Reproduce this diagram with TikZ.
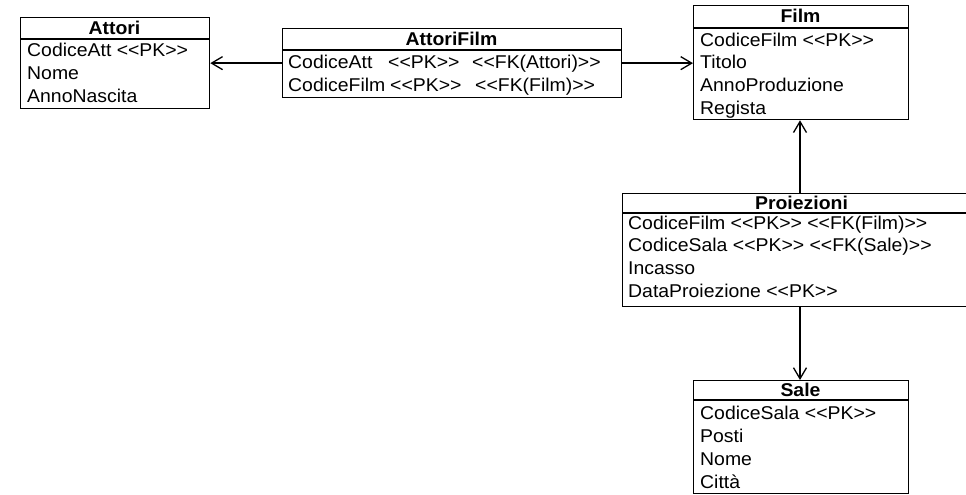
\documentclass[tikz,border=0pt]{standalone}
\usepackage{fontspec}
\setmainfont{Liberation Sans}[Ligatures=TeXOff, FakeStretch=1.05]
\usetikzlibrary{arrows.meta}
\tikzset{
  tbl/.style={draw, line width=1.3pt, inner sep=0pt, anchor=north west},
  hdr/.style={font=\bfseries\fontsize{18.5}{20}\selectfont, inner sep=0pt, anchor=base},
  row/.style={font=\fontsize{18.5}{20}\selectfont, inner sep=0pt, anchor=base west},
  sep/.style={line width=1.3pt},
  fk/.style={line width=1.3pt, -{Straight Barb[length=11pt,width=13pt,line width=1.3pt]}}
}
\begin{document}
\begin{tikzpicture}[x=1pt,y=-1pt]
\useasboundingbox (0,0) rectangle (966,495);
\clip (0,0) rectangle (966,495);
% Attori
\node[tbl, minimum width=189pt, minimum height=91pt] (attori) at (20,17) {};
\draw[sep] (20,39) -- (209,39);
\node[hdr] (attoriT) at (114.5,34.5) {Attori};
\node[row] (a1) at (27,56.5) {CodiceAtt <<PK>>};
\node[row] (a2) at (27,79.5) {Nome};
\node[row] (a3) at (27,102.5) {AnnoNascita};
% AttoriFilm
\node[tbl, minimum width=339pt, minimum height=69pt] (af) at (282,28) {};
\draw[sep] (282,50) -- (621,50);
\node[hdr] (afT) at (451.5,45.5) {AttoriFilm};
\node[row] (af1) at (288,69) {CodiceAtt};
\node[row] (af1b) at (388,69) {<<PK>>};
\node[row] (af1c) at (472,69) {<<FK(Attori)>>};
\node[row] (af2) at (288,91) {CodiceFilm};
\node[row] (af2b) at (390,91) {<<PK>>};
\node[row] (af2c) at (475,91) {<<FK(Film)>>};
% Film
\node[tbl, minimum width=215pt, minimum height=114pt] (film) at (693,5) {};
\draw[sep] (693,28) -- (908,28);
\node[hdr] (filmT) at (800.5,22.5) {Film};
\node[row] (f1) at (700,46.5) {CodiceFilm <<PK>>};
\node[row] (f2) at (700,68.5) {Titolo};
\node[row] (f3) at (700,91.5) {AnnoProduzione};
\node[row] (f4) at (700,114.5) {Regista};
% Proiezioni
\node[tbl, minimum width=360pt, minimum height=113pt] (pro) at (622,193) {};
\draw[sep] (622,213) -- (990,213);
\node[hdr] (proT) at (801.5,209.5) {Proiezioni};
\node[row] (p1) at (628,229.5) {CodiceFilm <<PK>> <<FK(Film)>>};
\node[row] (p2) at (628,251.5) {CodiceSala <<PK>> <<FK(Sale)>>};
\node[row] (p3) at (628,274.5) {Incasso};
\node[row] (p4) at (628,297.5) {DataProiezione <<PK>>};
% Sale
\node[tbl, minimum width=215pt, minimum height=113pt] (sale) at (693,380) {};
\draw[sep] (693,400) -- (908,400);
\node[hdr] (saleT) at (800.5,396.5) {Sale};
\node[row] (s1) at (700,419.5) {CodiceSala <<PK>>};
\node[row] (s2) at (700,442.5) {Posti};
\node[row] (s3) at (700,465.5) {Nome};
\node[row] (s4) at (700,488.5) {Città};
% connectors
\draw[fk] (af.west) -- (af.west -| attori.east);
\draw[fk] (af.east) -- (af.east -| film.west);
\coordinate (pt) at (800,193);
\coordinate (pb) at (800,306);
\draw[fk] (pt) -- (pt |- film.south);
\draw[fk] (pb) -- (pb |- sale.north);
\end{tikzpicture}
\end{document}
